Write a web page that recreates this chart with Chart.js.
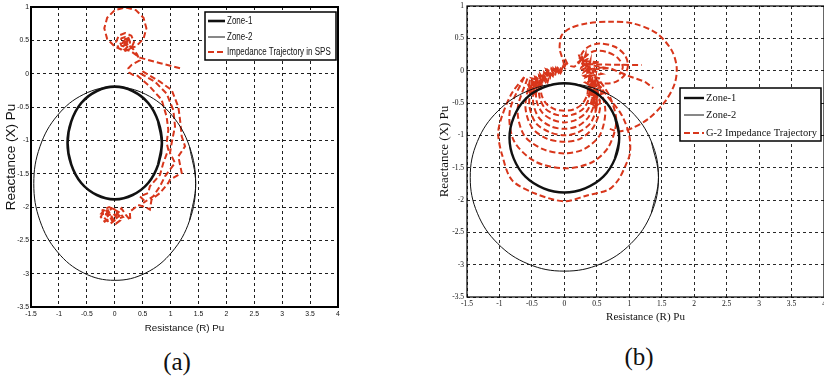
<!DOCTYPE html>
<html>
<head>
<meta charset="utf-8">
<script src="https://cdn.jsdelivr.net/npm/chart.js@4.4.1/dist/chart.umd.min.js"></script>
<style>
  html, body { margin: 0; padding: 0; background: #fff; width: 824px; height: 380px; overflow: hidden; }
  #panelA { position: absolute; left: 0; top: 0; }
  #panelB { position: absolute; left: 412px; top: 0; }
  .cap { position: absolute; font-family: "Liberation Serif", "Times New Roman", serif; font-size: 25px; line-height: 1; transform: translate(-50%, -50%); color: #111; }
</style>
</head>
<body>
<canvas id="panelA" width="412" height="340"></canvas>
<canvas id="panelB" width="412" height="340"></canvas>
<div class="cap" style="left:177px; top:361px;">(a)</div>
<div class="cap" style="left:639px; top:356px;">(b)</div>
<script>
// ---- axis ticks (both panels share the same R-X window) ----
const xTickValues = [-1.5, -1, -0.5, 0, 0.5, 1, 1.5, 2, 2.5, 3, 3.5, 4];
const xTickLabels = ['-1.5', '-1', '-0.5', '0', '0.5', '1', '1.5', '2', '2.5', '3', '3.5', '4'];
const yTickValues = [-3.5, -3, -2.5, -2, -1.5, -1, -0.5, 0, 0.5, 1];
const yTickLabels = ['-3.5', '-3', '-2.5', '-2', '-1.5', '-1', '-0.5', '0', '0.5', '1'];

// ---- relay zone characteristics (R, X) ----
const zone1 = [[0.78,-1.36],[0.845,-1.04],[0.78,-0.72],[0.6,-0.44],[0.32,-0.26],[0,-0.195],[-0.32,-0.26],[-0.6,-0.44],[-0.78,-0.72],[-0.845,-1.04],[-0.78,-1.36],[-0.6,-1.64],[-0.32,-1.82],[0,-1.885],[0.32,-1.82],[0.6,-1.64],[0.78,-1.36],[0.845,-1.04],[0.78,-0.72]];
const zone2 = [[1.34,-2.205],[1.45,-1.65],[1.34,-1.095],[1.025,-0.625],[0.555,-0.31],[0,-0.2],[-0.555,-0.31],[-1.025,-0.625],[-1.34,-1.095],[-1.45,-1.65],[-1.34,-2.205],[-1.025,-2.675],[-0.555,-2.99],[0,-3.1],[0.555,-2.99],[1.025,-2.675],[1.34,-2.205],[1.45,-1.65],[1.34,-1.095]];

// ---- (a) impedance trajectory in SPS ----
const spsBranch = [[1.17,0.08],[0.8,0.16],[0.45,0.24],[0.3,0.33]];
const spsOuterLoop = [[0.19,0.365],[0.378,0.407],[0.516,0.522],[0.567,0.68],[0.516,0.838],[0.378,0.953],[0.19,0.995],[0.0,0.953],[-0.136,0.838],[-0.187,0.68],[-0.136,0.522],[0.0,0.407],[0.1,0.37]];
const spsRing2 = [[0.185,0.34],[0.298,0.38],[0.345,0.475],[0.298,0.57],[0.185,0.61],[0.072,0.57],[0.025,0.475],[0.072,0.38],[0.16,0.345]];
const spsRing1 = [[0.25,0.42],[0.275,0.475],[0.25,0.53],[0.185,0.55],[0.12,0.53],[0.095,0.475],[0.12,0.42],[0.185,0.4]];
const spsCore = [[0.2,0.47],[0.15,0.5],[0.22,0.44],[0.17,0.43],[0.24,0.5],[0.19,0.52],[0.14,0.46],[0.21,0.48],[0.16,0.41],[0.23,0.53],[0.13,0.49],[0.25,0.45],[0.18,0.47],[0.22,0.41],[0.26,0.42]];
const spsHook = [[0.34,0.36],[0.4,0.29],[0.45,0.2],[0.3,0.13],[0.244,0.08],[0.26,0.015],[0.33,-0.02]];
const spsStrand1 = [[0.394,-0.02],[0.63,-0.195],[0.84,-0.39],[0.93,-0.645],[0.96,-0.845],[0.93,-1.04],[0.96,-1.14],[0.87,-1.34],[0.81,-1.52],[0.63,-1.69],[0.6,-1.79],[0.45,-1.84],[0.55,-1.92]];
const spsStrand2 = [[0.51,-1.94],[0.69,-1.84],[0.81,-1.69],[0.9,-1.54],[1.08,-1.34],[0.99,-1.19],[1.02,-1.04],[1.08,-0.79],[1.05,-0.545],[0.93,-0.3],[0.72,-0.12],[0.453,0.006]];
const spsStrand3 = [[0.51,0.03],[0.81,-0.12],[1.02,-0.245],[1.14,-0.5],[1.17,-0.69],[1.2,-0.94],[1.26,-1.09],[1.14,-1.24],[1.2,-1.49],[0.99,-1.59],[0.96,-1.64]];
const spsTail = [[0.81,-1.79],[0.66,-1.89],[0.63,-2.04],[0.55,-2.0],[0.42,-1.97],[0.35,-2.02],[0.27,-2.07],[0.28,-2.2],[0.2,-2.12],[0.12,-2.02],[0.05,-2.1],[0.1,-2.2],[0.02,-2.25],[-0.05,-2.15],[-0.12,-2.05],[-0.2,-2.08],[-0.25,-2.15],[-0.18,-2.22],[-0.1,-2.18],[-0.15,-2.1],[-0.05,-2.02],[0.05,-2.05],[0.0,-2.2],[-0.08,-2.25],[-0.2,-2.15],[-0.22,-2.05],[-0.1,-2.0],[0.08,-2.08],[0.15,-2.15],[0.05,-2.18],[-0.02,-2.1],[-0.1,-2.12],[-0.24,-2.1],[-0.16,-2.02],[-0.04,-2.22],[0.1,-2.12]];

// ---- (b) G-2 impedance trajectory ----
const g2Loop1 = [[-0.37,-0.2],[-0.35,-0.38],[-0.27,-0.52],[-0.14,-0.6],[0,-0.62],[0.14,-0.6],[0.27,-0.52],[0.35,-0.38],[0.37,-0.2]];
const g2Loop2 = [[-0.4,-0.2],[-0.38,-0.42],[-0.3,-0.58],[-0.16,-0.67],[0,-0.7],[0.16,-0.67],[0.3,-0.58],[0.38,-0.42],[0.4,-0.2]];
const g2Loop3 = [[-0.43,-0.18],[-0.43,-0.46],[-0.34,-0.65],[-0.18,-0.76],[0,-0.8],[0.18,-0.76],[0.33,-0.65],[0.42,-0.46],[0.42,-0.18]];
const g2Loop4 = [[-0.46,-0.17],[-0.48,-0.5],[-0.39,-0.73],[-0.21,-0.86],[0,-0.9],[0.2,-0.86],[0.37,-0.72],[0.46,-0.5],[0.44,-0.17]];
const g2Loop5 = [[-0.5,-0.15],[-0.54,-0.53],[-0.44,-0.81],[-0.23,-0.95],[0,-1.0],[0.22,-0.95],[0.41,-0.8],[0.5,-0.53],[0.46,-0.15]];
const g2Loop6 = [[-0.53,-0.14],[-0.6,-0.56],[-0.5,-0.88],[-0.27,-1.05],[0,-1.1],[0.25,-1.05],[0.45,-0.87],[0.55,-0.56],[0.47,-0.14]];
const g2Loop7 = [[-0.57,-0.12],[-0.72,-0.6],[-0.62,-1.0],[-0.34,-1.21],[0,-1.28],[0.31,-1.21],[0.55,-0.99],[0.63,-0.6],[0.5,-0.12]];
const g2Loop8 = [[-0.62,-0.1],[-0.84,-0.62],[-0.78,-1.08],[-0.46,-1.4],[0,-1.51],[0.42,-1.42],[0.68,-1.18],[0.8,-0.78],[0.7,-0.4],[0.52,-0.12]];
const g2Loop9 = [[-0.62,-0.1],[-0.81,-0.35],[-0.96,-0.7],[-1.02,-0.97],[-0.96,-1.3],[-0.81,-1.69],[-0.45,-1.9],[0,-2.02],[0.35,-1.93],[0.68,-1.84],[0.83,-1.69],[0.95,-1.45],[1.01,-1.28],[1.0,-1.0],[0.88,-0.68],[0.65,-0.38],[0.48,-0.15]];
const g2WideArc = [[0.0,0.08],[-0.03,0.19],[-0.07,0.32],[-0.07,0.42],[-0.04,0.55],[0.085,0.655],[0.34,0.73],[0.7,0.757],[1.06,0.73],[1.42,0.58],[1.65,0.32],[1.73,0.06],[1.7,-0.2],[1.55,-0.48],[1.3,-0.74],[1.04,-0.89],[0.83,-0.94],[0.7,-0.9]];
const g2MidArc = [[0.3,0.1],[0.26,0.243],[0.37,0.37],[0.546,0.42],[0.777,0.37],[0.93,0.243],[0.98,0.088],[0.93,-0.066],[0.8,-0.17],[0.65,-0.2],[0.52,-0.18]];
const g2SmallArc = [[0.3,0.2],[0.45,0.3],[0.65,0.29],[0.82,0.2],[0.9,0.06],[0.85,-0.06]];
const g2Ray1 = [[0.35,0.1],[0.6,0.095],[0.9,0.09],[1.19,0.088]];
const g2Ray2 = [[0.45,0.02],[0.7,0.04],[1.01,-0.09],[1.24,-0.17],[1.37,-0.27]];
const g2HairL1 = [[-0.56,-0.3],[-0.5,-0.38],[-0.52,-0.24],[-0.45,-0.32],[-0.48,-0.17],[-0.4,-0.26],[-0.42,-0.12],[-0.35,-0.2],[-0.37,-0.06],[-0.3,-0.16],[-0.31,-0.03],[-0.24,-0.11],[-0.25,0.0],[-0.18,-0.08],[-0.17,0.03],[-0.12,-0.05],[-0.1,0.04],[-0.05,-0.01],[-0.02,0.07],[0.02,0.02]];
const g2HairL2 = [[-0.05,0.05],[-0.09,-0.03],[-0.13,0.04],[-0.16,-0.06],[-0.2,0.02],[-0.22,-0.1],[-0.27,-0.01],[-0.28,-0.14],[-0.33,-0.05],[-0.33,-0.18],[-0.39,-0.09],[-0.38,-0.24],[-0.44,-0.14],[-0.43,-0.29],[-0.49,-0.2],[-0.47,-0.34],[-0.54,-0.26],[-0.5,-0.36]];
const g2HairL3 = [[-0.5,-0.3],[-0.46,-0.24],[-0.5,-0.2],[-0.42,-0.2],[-0.45,-0.1],[-0.36,-0.16],[-0.38,-0.08],[-0.3,-0.1],[-0.34,-0.02],[-0.24,-0.06],[-0.28,0.02],[-0.18,-0.03],[-0.2,0.05],[-0.1,0.0],[-0.08,0.06]];
const g2HairL4 = [[-0.55,-0.22],[-0.47,-0.28],[-0.44,-0.18],[-0.5,-0.12],[-0.4,-0.14],[-0.36,-0.24],[-0.32,-0.12],[-0.26,-0.18],[-0.22,-0.04],[-0.15,-0.1],[-0.12,0.02],[-0.06,-0.04],[0.0,0.08]];
const g2Bridge = [[0.0,0.05],[0.03,0.12],[0.01,0.18],[0.05,0.1],[0.1,0.07],[0.15,0.06],[0.2,0.09],[0.24,0.14],[0.27,0.22],[0.3,0.14]];
const g2HairR1 = [[0.2,0.12],[0.3,0.2],[0.26,0.05],[0.36,0.12],[0.3,-0.02],[0.4,0.05],[0.33,-0.1],[0.43,-0.05],[0.35,-0.18],[0.45,-0.15],[0.37,-0.26],[0.47,-0.24],[0.39,-0.34],[0.49,-0.33],[0.41,-0.42],[0.5,-0.42],[0.43,-0.5],[0.52,-0.52],[0.44,-0.58],[0.5,-0.62]];
const g2HairR2 = [[0.48,-0.55],[0.4,-0.5],[0.47,-0.45],[0.37,-0.38],[0.46,-0.35],[0.34,-0.28],[0.44,-0.25],[0.32,-0.18],[0.42,-0.14],[0.3,-0.08],[0.41,-0.04],[0.28,0.02],[0.38,0.06],[0.27,0.12],[0.35,0.18],[0.25,0.2],[0.32,0.24]];
const g2HairR3 = [[0.3,0.15],[0.55,0.13],[0.35,0.1],[0.6,0.05],[0.38,0.02],[0.58,-0.05],[0.4,-0.08],[0.55,-0.12],[0.42,-0.2],[0.58,-0.25],[0.44,-0.3],[0.6,-0.35],[0.46,-0.4]];
const g2HairR4 = [[0.22,0.25],[0.28,0.1],[0.33,0.26],[0.35,0.0],[0.4,0.15],[0.38,-0.12],[0.45,0.0],[0.4,-0.3],[0.48,-0.1],[0.45,-0.45],[0.52,-0.3],[0.47,-0.6],[0.55,-0.45]];

const RED = '#d8361b';
const SERIF = '"Liberation Serif", "Times New Roman", serif';
const NARROW = '"Liberation Sans Narrow", "Arial Narrow", "Liberation Sans", sans-serif';
const SANS = '"Liberation Sans", Arial, sans-serif';

const toXY = arr => arr.map(([x, y]) => ({ x, y }));

function zoneSets(w1) {
  return [
    { label: 'Zone-1', data: toXY(zone1), borderColor: '#111', borderWidth: w1, tension: 0.38 },
    { label: 'Zone-2', data: toXY(zone2), borderColor: '#111', borderWidth: 1, tension: 0.38 }
  ];
}
function trajSet(label, arr, tension) {
  return { label, data: toXY(arr), borderColor: RED, borderWidth: 2, borderDash: [6, 3], tension: tension || 0 };
}

// frame around the plotting area plus a boxed legend drawn on top
const framedLegend = {
  id: 'framedLegend',
  afterDraw(chart, args, o) {
    const { ctx, chartArea: a } = chart;
    ctx.save();
    ctx.setLineDash([]);
    ctx.strokeStyle = '#000';
    ctx.lineWidth = o.frameWidth;
    ctx.strokeRect(a.left, a.top, a.right - a.left, a.bottom - a.top);
    ctx.fillStyle = '#fff';
    ctx.fillRect(o.left, o.top, o.width, o.height);
    ctx.lineWidth = o.boxWidth;
    ctx.strokeRect(o.left, o.top, o.width, o.height);
    const items = chart.data.datasets.filter(d => d.label);
    items.forEach((d, i) => {
      const y = o.rows[i];
      ctx.setLineDash(d.borderDash || []);
      ctx.strokeStyle = d.borderColor;
      ctx.lineWidth = d.borderWidth;
      ctx.beginPath();
      ctx.moveTo(o.lineX0, y);
      ctx.lineTo(o.lineX1, y);
      ctx.stroke();
      ctx.setLineDash([]);
      ctx.save();
      ctx.fillStyle = '#111';
      ctx.font = o.font;
      ctx.textBaseline = 'middle';
      ctx.textAlign = 'left';
      ctx.translate(o.textX, y);
      ctx.scale(o.textScaleX || 1, 1);
      ctx.fillText(d.label, 0, 0);
      ctx.restore();
    });
    ctx.restore();
  }
};

function axes(g) {
  return {
    x: {
      type: 'linear', min: -1.5, max: 4,
      afterBuildTicks: s => { s.ticks = xTickValues.map(v => ({ value: v })); },
      afterFit: s => { s.height = g.xHeight; s.paddingLeft = 0; s.paddingRight = 0; },
      ticks: { autoSkip: false, maxRotation: 0, minRotation: 0, padding: g.xPad, color: '#111',
               font: { family: g.tickFamily, size: g.tickSize }, callback: (v, i) => xTickLabels[i] },
      grid: { color: g.gridColor, lineWidth: 1, drawTicks: false, borderDash: [3, 3] },
      border: { display: false, dash: [3, 3] },
      title: { display: true, text: 'Resistance (R) Pu', color: '#111',
               font: { family: g.xTitleFamily, size: g.xTitleSize, lineHeight: 1.2 },
               padding: { top: 0, bottom: g.xTitlePad } }
    },
    y: {
      type: 'linear', min: -3.5, max: 1,
      afterBuildTicks: s => { s.ticks = yTickValues.map(v => ({ value: v })); },
      afterFit: s => { s.width = g.yWidth; s.paddingTop = 0; s.paddingBottom = 0; },
      ticks: { autoSkip: false, padding: g.yPad, color: '#111',
               font: { family: g.tickFamily, size: g.tickSize }, callback: (v, i) => yTickLabels[i] },
      grid: { color: g.gridColor, lineWidth: 1, drawTicks: false, borderDash: [3, 3] },
      border: { display: false, dash: [3, 3] },
      title: { display: true, text: 'Reactance (X) Pu', color: '#111',
               font: { family: g.yTitleFamily, size: g.yTitleSize, lineHeight: 1.2 },
               padding: { top: g.yTitlePad, bottom: 0 } }
    }
  };
}

function build(id, datasets, g, legend) {
  datasets.forEach(d => { d.showLine = true; d.pointRadius = 0; d.pointHoverRadius = 0; d.fill = false; });
  return new Chart(document.getElementById(id), {
    type: 'scatter',
    data: { datasets },
    options: {
      responsive: false, animation: false, devicePixelRatio: 1,
      layout: { padding: g.padding },
      plugins: { legend: { display: false }, tooltip: { enabled: false }, framedLegend: legend },
      scales: axes(g)
    },
    plugins: [framedLegend]
  });
}

// panel (a)
const spsPath = [].concat(spsBranch, spsOuterLoop, spsRing2, spsRing1, spsCore, spsHook,
                          spsStrand1, spsStrand2, spsStrand3, spsTail);
build('panelA',
  [...zoneSets(2.6), trajSet('Impedance Trajectory in SPS', spsPath)],
  { padding: { left: 0, top: 7, right: 74, bottom: 0 }, xHeight: 33, yWidth: 31,
    xPad: 3, yPad: 2, tickFamily: NARROW, tickSize: 6.8, gridColor: '#1e1e1e',
    xTitleFamily: NARROW, xTitleSize: 9.8, xTitlePad: 6,
    yTitleFamily: SANS, yTitleSize: 13.5, yTitlePad: 3 },
  { frameWidth: 2, boxWidth: 1.5, left: 205, top: 12, width: 131, height: 48,
    rows: [21, 37, 52], lineX0: 208, lineX1: 225, textX: 227, textScaleX: 0.8,
    font: '10px ' + NARROW });

// panel (b)
const g2Pieces = [g2Loop2, g2Loop3, g2Loop4, g2Loop5, g2Loop6, g2Loop7, g2Loop8, g2Loop9,
                  g2WideArc, g2MidArc, g2SmallArc, g2Ray1, g2Ray2,
                  g2HairL1, g2HairL2, g2HairL3, g2HairL4, g2Bridge, g2HairR1, g2HairR2, g2HairR3, g2HairR4];
build('panelB',
  [...zoneSets(2.4), trajSet('G-2 Impedance Trajectory', g2Loop1, 0.3),
   ...g2Pieces.map((p, i) => trajSet('', p, i < 11 ? 0.3 : 0))],
  { padding: { left: 0, top: 6, right: 0, bottom: 0 }, xHeight: 43, yWidth: 55,
    xPad: 3, yPad: 3, tickFamily: SERIF, tickSize: 7.5, gridColor: '#2a2a2a',
    xTitleFamily: SERIF, xTitleSize: 11, xTitlePad: 16,
    yTitleFamily: SERIF, yTitleSize: 13, yTitlePad: 25 },
  { frameWidth: 1.2, boxWidth: 1.5, left: 268, top: 88, width: 141, height: 53,
    rows: [98, 115, 133], lineX0: 272, lineX1: 292, textX: 294, font: '10.5px ' + SERIF });
</script>
</body>
</html>
